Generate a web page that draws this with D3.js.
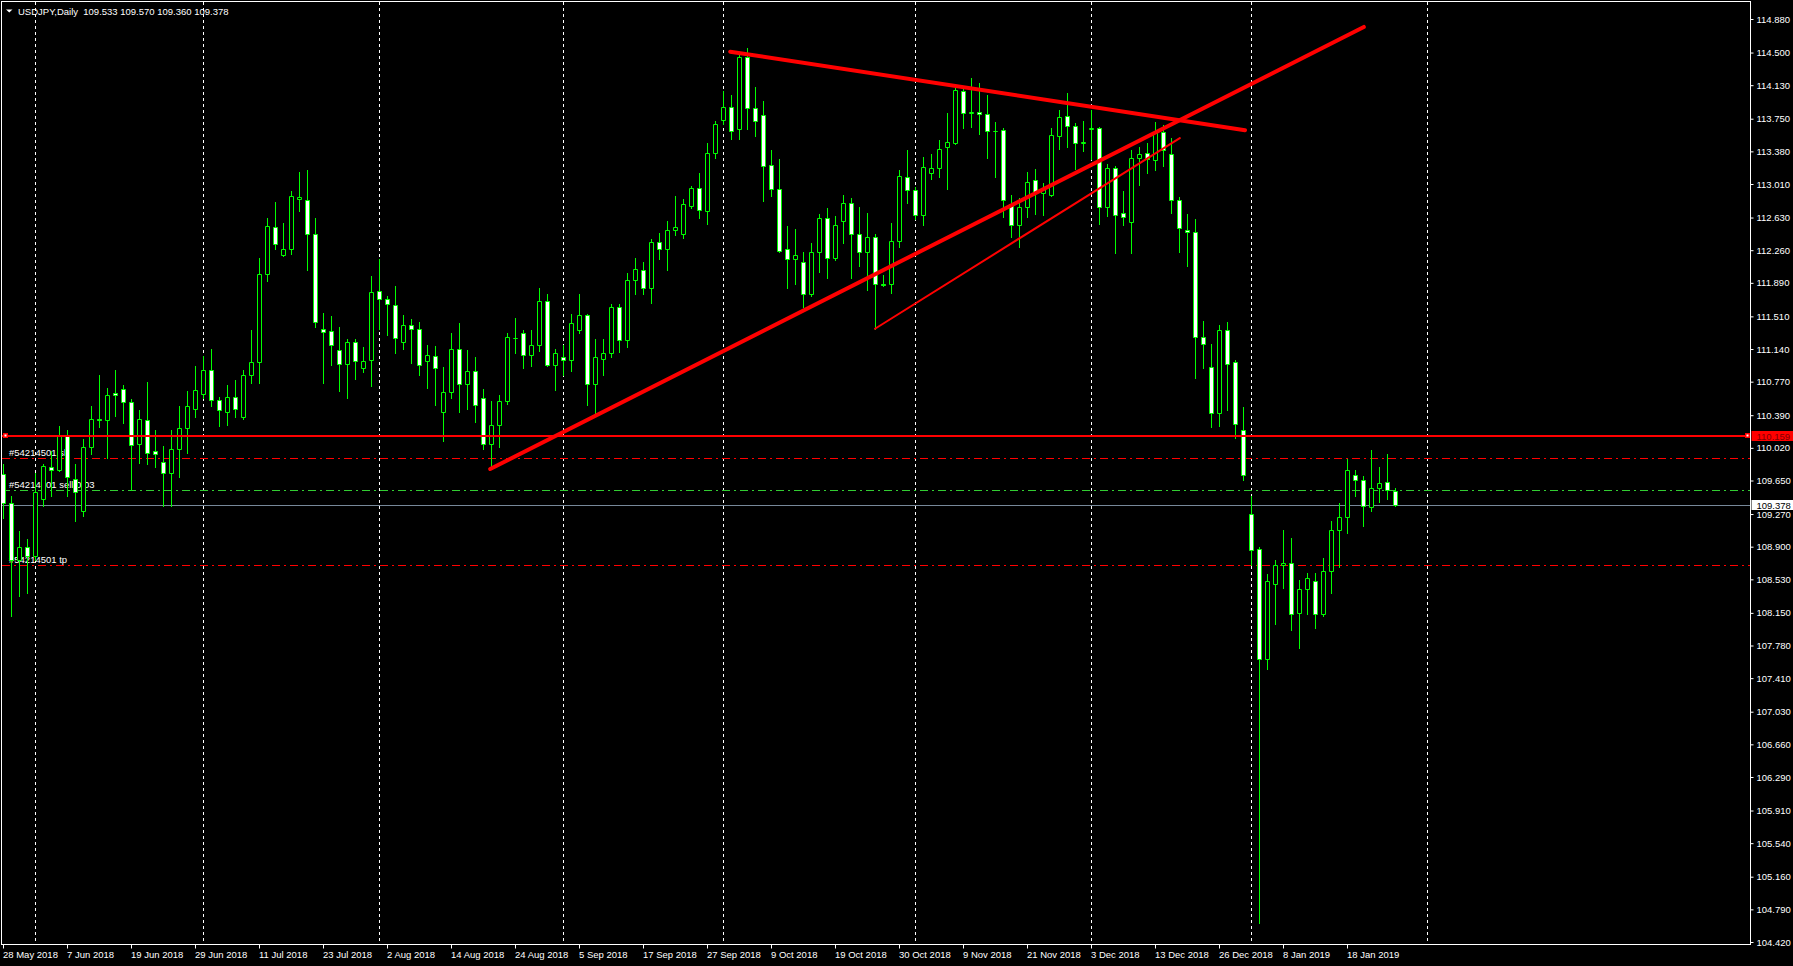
<!DOCTYPE html>
<html><head><meta charset="utf-8">
<script src="https://cdn.jsdelivr.net/npm/d3@7"></script>
<style>
html,body{margin:0;padding:0;background:#000;overflow:hidden}
svg{display:block}
text{font-family:"Liberation Sans",Arial,sans-serif;font-size:9.5px;fill:#fff}
</style></head><body>
<svg id="chart" width="1793" height="966"></svg>
<script>
// ---------------- data ----------------
const symbolTitle = "USDJPY,Daily";
const lastQuote = [109.533, 109.570, 109.360, 109.378];

const opens = [109.72,109.39,108.75,108.90,108.79,109.44,109.80,109.77,110.15,109.67,
109.30,110.03,110.35,110.33,110.64,110.69,110.54,110.06,110.34,109.98,
109.86,109.74,110.01,110.24,110.46,110.63,110.90,110.56,110.43,110.60,
110.37,110.84,110.99,111.99,112.52,112.21,112.27,112.84,112.83,112.44,
111.37,111.34,111.13,110.97,111.22,110.93,111.01,111.80,111.71,111.64,
111.22,111.41,111.37,111.00,111.06,110.43,110.65,111.14,110.74,110.89,
110.59,110.06,110.28,110.55,111.27,111.32,111.07,111.19,111.68,110.96,
111.05,111.01,111.35,111.52,110.74,111.03,111.10,111.62,111.24,111.92,
112.03,111.83,112.35,112.27,112.49,112.44,112.76,112.97,112.70,113.36,
113.73,113.88,113.63,114.45,113.87,113.79,113.23,112.95,112.27,112.16,
112.13,111.76,112.24,112.63,112.17,112.59,112.80,112.44,112.24,112.41,
111.88,111.88,112.36,113.09,112.94,112.66,113.14,113.19,113.43,113.48,
114.06,113.81,113.83,113.80,113.61,113.62,112.78,112.54,112.75,113.05,
112.91,112.88,113.55,113.78,113.67,113.48,113.63,113.64,112.75,113.19,
112.68,112.58,113.31,113.36,113.28,113.60,113.35,112.83,112.49,112.47,
111.28,110.94,110.41,111.35,110.99,110.22,109.27,108.87,107.63,108.48,
108.69,108.71,108.15,108.42,108.51,108.14,108.62,109.09,109.24,109.71,
109.65,109.35,109.56,109.63,109.533];
const highs = [109.84,109.47,109.08,108.99,109.73,109.84,109.98,110.27,110.22,109.84,
110.12,110.49,110.85,110.70,110.90,110.73,110.57,110.45,110.77,110.22,
110.04,110.22,110.49,110.66,110.95,111.06,111.14,110.60,110.73,110.79,
110.90,111.36,112.17,112.62,112.81,112.57,112.93,113.15,113.17,112.62,
111.55,111.51,111.39,111.25,111.25,111.16,111.97,112.16,111.74,111.85,
111.53,111.48,111.45,111.19,111.17,110.94,111.32,111.43,111.13,111.05,
110.69,110.55,110.62,111.32,111.49,111.36,111.36,111.83,111.76,111.14,
111.19,111.54,111.76,111.54,111.25,111.25,111.65,111.65,112.00,112.17,
112.13,112.39,112.45,112.59,112.87,112.84,112.99,113.14,113.47,113.72,
114.06,114.02,114.50,114.55,114.11,113.95,113.40,113.29,112.53,112.50,
112.24,112.34,112.67,112.74,112.65,112.89,112.85,112.75,112.68,112.44,
111.98,112.57,113.17,113.40,112.98,113.32,113.35,113.51,113.82,114.10,
114.10,114.21,114.15,114.02,113.71,113.64,112.89,112.85,113.15,113.18,
113.02,113.65,113.85,114.04,113.70,113.72,113.85,113.66,113.24,113.21,
112.93,113.39,113.43,113.48,113.71,113.68,113.53,112.86,112.67,112.61,
111.46,111.20,111.41,111.45,111.02,110.48,109.47,108.90,108.59,108.75,
109.09,109.00,108.52,108.60,108.60,108.77,109.19,109.39,109.89,109.77,
109.70,110.00,109.80,109.95,109.570];
const lows = [109.22,108.11,108.34,108.37,108.75,109.36,109.47,109.76,109.47,109.19,
109.25,109.95,110.26,109.91,110.38,110.30,109.54,109.85,109.84,109.80,
109.36,109.36,109.69,109.96,110.37,110.58,110.49,110.27,110.28,110.37,
110.35,110.76,110.76,111.91,112.27,112.19,112.22,112.70,112.04,111.39,
110.75,110.96,110.66,110.59,110.80,110.88,110.72,111.37,111.30,111.10,
111.14,110.98,110.84,110.70,110.51,110.10,110.59,110.43,110.46,110.31,
110.01,109.79,110.03,110.52,111.10,110.93,110.95,111.12,110.95,110.68,
110.85,110.89,111.32,110.51,110.41,110.85,111.05,111.11,111.16,111.76,
111.76,111.66,112.16,112.04,112.43,112.40,112.74,112.63,112.56,113.31,
113.69,113.52,113.52,113.63,113.55,112.82,112.87,112.24,111.83,111.88,
111.62,111.74,112.01,111.95,112.15,112.34,111.95,112.08,111.81,111.37,
111.85,111.77,112.30,112.80,112.61,112.55,113.07,113.09,112.95,113.46,
113.64,113.66,113.58,113.30,113.09,112.64,112.41,112.30,112.64,112.67,
112.66,112.87,113.41,113.43,113.18,113.38,113.29,112.56,112.65,112.23,
112.54,112.23,113.00,113.14,113.17,113.21,112.68,112.24,112.08,110.81,
110.93,110.26,110.27,110.45,110.13,109.66,108.69,104.63,107.51,108.02,
108.43,107.96,107.75,108.14,107.98,108.11,108.37,108.67,109.05,109.47,
109.14,109.31,109.41,109.44,109.360];
const closes = [109.40,108.75,108.90,108.79,109.52,109.81,109.77,110.15,109.69,109.52,
110.03,110.35,110.33,110.62,110.62,110.54,110.05,110.35,109.96,109.95,
109.74,110.01,110.24,110.49,110.68,110.90,110.56,110.45,110.60,110.46,
110.84,110.99,111.99,112.53,112.33,112.27,112.87,112.86,112.44,111.45,
111.33,111.19,110.97,111.22,111.00,111.00,111.79,111.71,111.65,111.26,
111.41,111.37,110.96,111.07,110.92,110.65,111.14,110.74,110.89,110.50,
110.06,110.28,110.55,111.28,111.26,111.07,111.19,111.68,110.96,111.10,
111.01,111.44,111.52,110.74,111.05,111.09,111.62,111.24,111.92,112.05,
111.83,112.35,112.27,112.49,112.52,112.78,112.97,112.71,113.36,113.69,
113.88,113.61,114.45,113.87,113.72,113.21,112.95,112.25,112.16,112.21,
111.76,112.24,112.63,112.17,112.54,112.80,112.44,112.24,112.41,111.88,
111.86,112.36,113.10,112.94,112.66,113.20,113.19,113.41,113.49,114.07,
113.81,113.83,113.80,113.61,113.61,112.83,112.55,112.75,113.03,112.91,
112.95,113.57,113.77,113.67,113.48,113.49,113.65,112.75,113.19,112.66,
112.64,113.31,113.35,113.29,113.60,113.39,112.83,112.51,112.47,111.28,
111.20,110.41,111.36,110.97,110.29,109.71,108.86,107.63,108.51,108.69,
108.72,108.14,108.42,108.54,108.14,108.63,109.09,109.24,109.77,109.65,
109.36,109.57,109.62,109.54,109.378];

const dateTickLabels = ["28 May 2018","7 Jun 2018","19 Jun 2018","29 Jun 2018","11 Jul 2018",
"23 Jul 2018","2 Aug 2018","14 Aug 2018","24 Aug 2018","5 Sep 2018","17 Sep 2018",
"27 Sep 2018","9 Oct 2018","19 Oct 2018","30 Oct 2018","9 Nov 2018","21 Nov 2018",
"3 Dec 2018","13 Dec 2018","26 Dec 2018","8 Jan 2019","18 Jan 2019"];
const barsPerDateTick = 8;
const monthStartBars = [4,25,47,70,90,114,136,156,178];

const priceTicks = [114.880,114.500,114.130,113.750,113.380,113.010,112.630,112.260,111.890,
111.510,111.140,110.770,110.390,110.020,109.650,109.270,108.900,108.530,108.150,107.780,
107.410,107.030,106.660,106.290,105.910,105.540,105.160,104.790,104.420];

const hLinePrice = 110.159;
const bidPrice = 109.378;
const orderLabels = ["#54214501 sl","#54214501 sell 0.03","#54214501 tp"];
const orderPrices = [109.91, 109.54, 108.69];
const orderColors = ["#ff0000","#32cd32","#ff0000"];

const trendFrom = [[60.9,109.78],[90.9,114.51],[109,111.37]];
const trendTo   = [[170.1,114.79],[155.25,113.62],[147.1,113.53]];
const trendWidth = [4,4,2];

// ---------------- layout ----------------
const W = 1793, H = 966;
const plotL = 1.5, plotT = 1.5, axisX = 1750.5, axisY = 944.5;
const svg = d3.select("#chart");
svg.append("rect").attr("width",W).attr("height",H).attr("fill","#000");

const x = d3.scaleLinear().domain([0, 218]).range([3, 3 + 8*218]);
const y = d3.scaleLinear().domain([104.42, 114.88]).range([942, 19]);

svg.append("defs").append("clipPath").attr("id","plotClip")
  .append("rect").attr("x",2).attr("y",2).attr("width",axisX-2.5).attr("height",axisY-2.5);

const plot = svg.append("g").attr("clip-path","url(#plotClip)");

// order labels (under candles)
plot.selectAll("text.ord").data(orderLabels).join("text")
  .attr("x", 9).attr("y", (d,i)=>Math.round(y(orderPrices[i])) - 2)
  .text(d=>d);

// period separators
plot.selectAll("line.sep").data(monthStartBars).join("line")
  .attr("x1", d=>Math.round(x(d))+0.5).attr("x2", d=>Math.round(x(d))+0.5)
  .attr("y1", 2).attr("y2", axisY)
  .attr("stroke","#fff").attr("stroke-dasharray","3,3");

// order level lines
plot.selectAll("line.ordl").data(orderPrices).join("line")
  .attr("x1", 2).attr("x2", axisX)
  .attr("y1", d=>Math.round(y(d))+0.5).attr("y2", d=>Math.round(y(d))+0.5)
  .attr("stroke",(d,i)=>orderColors[i]).attr("stroke-dasharray","8,4,2,4");

// bid line
plot.append("line").attr("x1",2).attr("x2",axisX)
  .attr("y1",Math.round(y(bidPrice))+0.5).attr("y2",Math.round(y(bidPrice))+0.5)
  .attr("stroke","#778899");

// candles
const candles = opens.map((o,i)=>({i, o, h:highs[i], l:lows[i], c:closes[i]}));
plot.selectAll("line.wick").data(candles).join("line")
  .attr("x1", d=>Math.round(x(d.i))+0.5).attr("x2", d=>Math.round(x(d.i))+0.5)
  .attr("y1", d=>Math.round(y(d.h))).attr("y2", d=>Math.round(y(d.l))+1)
  .attr("stroke","#00ff00");
plot.selectAll("path.body").data(candles).join("path")
  .attr("d", d=>{
    const xc = Math.round(x(d.i));
    const t = Math.round(y(Math.max(d.o,d.c)))+0.5, b = Math.round(y(Math.min(d.o,d.c)))+0.5;
    return `M${xc-1.5},${t}H${xc+2.5}V${b}H${xc-1.5}Z`;
  })
  .attr("fill", d=> d.c >= d.o ? "#000" : "#fff")
  .attr("stroke","#00ff00");

// trend lines
plot.selectAll("line.trend").data(trendFrom).join("line")
  .attr("x1", d=>x(d[0])).attr("y1", d=>y(d[1]))
  .attr("x2", (d,i)=>x(trendTo[i][0])).attr("y2", (d,i)=>y(trendTo[i][1]))
  .attr("stroke","#ff0000").attr("stroke-width",(d,i)=>trendWidth[i])
  .attr("stroke-linecap","round");

// horizontal line object
const hy = Math.round(y(hLinePrice));
plot.append("line").attr("x1",2).attr("x2",axisX).attr("y1",hy).attr("y2",hy)
  .attr("stroke","#ff0000").attr("stroke-width",2);
[3, axisX-5.5].forEach(sx=>{
  svg.append("rect").attr("x",sx).attr("y",hy-3).attr("width",5).attr("height",5).attr("fill","#ff0000");
  svg.append("rect").attr("x",sx+1.5).attr("y",hy-1.5).attr("width",2).attr("height",2).attr("fill","#fff");
});

// frame
svg.append("rect").attr("x",plotL).attr("y",plotT).attr("width",axisX-plotL).attr("height",axisY-plotT)
  .attr("fill","none").attr("stroke","#fff");

// price axis
const yAxis = d3.axisRight(y).tickValues(priceTicks).tickSize(3).tickSizeOuter(0)
  .tickPadding(3).tickFormat(d3.format(".3f"));
const ya = svg.append("g").attr("transform",`translate(${axisX},0)`).call(yAxis);
ya.select(".domain").remove();
ya.selectAll(".tick line").attr("stroke","#fff");
ya.selectAll(".tick text").attr("fill","#fff").style("font-family","Liberation Sans, Arial, sans-serif").style("font-size","9.5px");

// price labels on axis
function priceBox(p, bg, fg){
  const py = Math.round(y(p));
  svg.append("rect").attr("x",axisX+1).attr("y",py-5).attr("width",W-axisX-1).attr("height",10).attr("fill",bg);
  svg.append("text").attr("x",axisX+6).attr("y",py+3.5).style("fill",fg).text(d3.format(".3f")(p));
}
priceBox(hLinePrice, "#ff0000", "#800000");
priceBox(bidPrice, "#ffffff", "#000000");

// time axis
const dateTickBars = dateTickLabels.map((d,k)=>k*barsPerDateTick);
const xAxis = d3.axisBottom(x).tickValues(dateTickBars).tickSize(4).tickSizeOuter(0).tickPadding(3)
  .tickFormat((d,k)=>dateTickLabels[k]);
const xa = svg.append("g").attr("transform",`translate(0,${axisY})`).call(xAxis);
xa.select(".domain").remove();
xa.selectAll(".tick line").attr("stroke","#fff");
xa.selectAll(".tick text").attr("fill","#fff").attr("text-anchor","start").attr("dx",-0.5)
  .style("font-family","Liberation Sans, Arial, sans-serif").style("font-size","9.5px");

// title
svg.append("path").attr("d","M6,9.5H12.5L9.25,12.5Z").attr("fill","#fff");
svg.append("text").attr("x",18).attr("y",14.5).style("white-space","pre")
  .text(symbolTitle + "  " + lastQuote.map(d3.format(".3f")).join(" "));
</script>
</body></html>
